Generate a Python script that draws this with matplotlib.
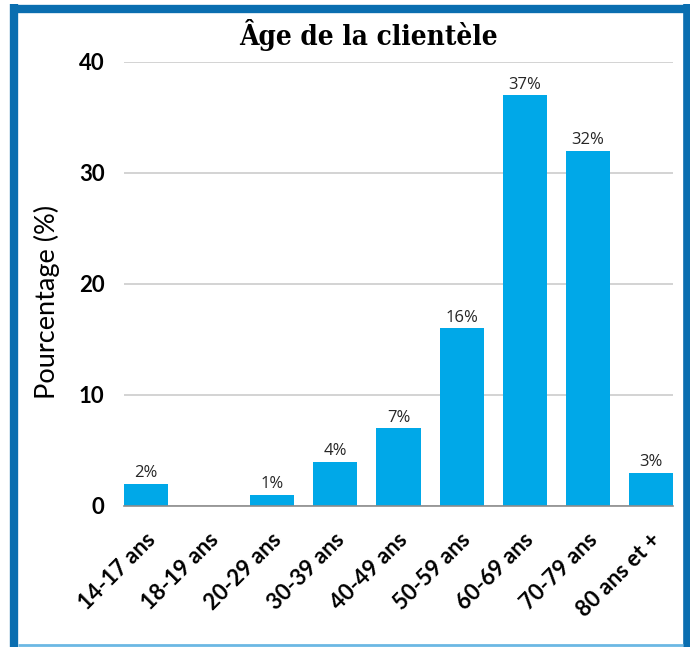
import matplotlib
matplotlib.use("Agg")
import matplotlib.pyplot as plt
import matplotlib.transforms as mtransforms
from matplotlib.lines import Line2D

categories = ["14-17 ans", "18-19 ans", "20-29 ans", "30-39 ans", "40-49 ans",
              "50-59 ans", "60-69 ans", "70-79 ans", "80 ans et +"]
values = [2, 0, 1, 4, 7, 16, 37, 32, 3]
labels = ["2%", "", "1%", "4%", "7%", "16%", "37%", "32%", "3%"]
yticks = [0, 10, 20, 30, 40]

W, H = 690, 647
fig = plt.figure(figsize=(W / 100, H / 100), dpi=100)
ax = fig.add_axes([124 / W, 1 - 506 / H, (673 - 124) / W, (506 - 62) / H])

bar_color = "#00A8E8"
x = list(range(len(categories)))
ax.bar(x, values, width=0.7, color=bar_color, zorder=3)
ax.set_xlim(-0.35, len(categories) - 1 + 0.35)
ax.set_ylim(0, 40)
ax.set_yticks(yticks)
ax.yaxis.grid(True, color="#d0d0d0", linewidth=1.3, zorder=0)
ax.set_axisbelow(True)
for s in ["top", "right", "left"]:
    ax.spines[s].set_visible(False)
ax.spines["bottom"].set_color("#8c8c8c")
ax.spines["bottom"].set_linewidth(1.2)
ax.spines["bottom"].set_zorder(4)
ax.tick_params(axis="both", length=0)
ax.tick_params(axis="y", pad=14)

for xi, v, lab in zip(x, values, labels):
    if lab:
        ax.annotate(lab, (xi, v), xytext=(0, 2), textcoords="offset points",
                    ha="center", va="bottom", fontsize=12, color="#262626",
                    family="Open Sans")

ax.set_xticks(x)
ax.set_xticklabels(categories, rotation=45, ha="right", va="center",
                   rotation_mode="anchor",
                   fontsize=16, fontweight="bold", family="Lato")
for t in ax.get_xticklabels():
    t.set_transform(t.get_transform() + mtransforms.ScaledTranslation(0.06, -0.26, fig.dpi_scale_trans))
for t in ax.get_yticklabels():
    t.set_fontsize(16)
    t.set_fontweight("bold")
    t.set_family("Lato")

fig.text(47 / W, 1 - 302 / H, "Pourcentage (%)", rotation=90, ha="center", va="center",
         fontsize=19.5, family="Lato")

fig.text(368 / W, 1 - 35 / H, "Âge de la clientèle", ha="center", va="center",
         fontsize=20, fontweight="bold", fontstretch="condensed", family="DejaVu Serif")

# border
dark = "#0A6EB0"
fig.add_artist(Line2D([14 / W, 14 / W], [0, 1 - 4 / H], transform=fig.transFigure,
                      color=dark, linewidth=6, solid_capstyle="butt"))
fig.add_artist(Line2D([10 / W, 690 / W], [1 - 8.5 / H, 1 - 8.5 / H], transform=fig.transFigure,
                      color=dark, linewidth=6, solid_capstyle="butt"))
fig.add_artist(Line2D([686.5 / W, 686.5 / W], [0, 1 - 4 / H], transform=fig.transFigure,
                      color=dark, linewidth=5.5, solid_capstyle="butt"))
fig.add_artist(Line2D([18 / W, 683 / W], [1 - 644.5 / H, 1 - 644.5 / H], transform=fig.transFigure,
                      color="#6BB8E4", linewidth=2, solid_capstyle="butt"))

fig.savefig("out.png", dpi=100)
